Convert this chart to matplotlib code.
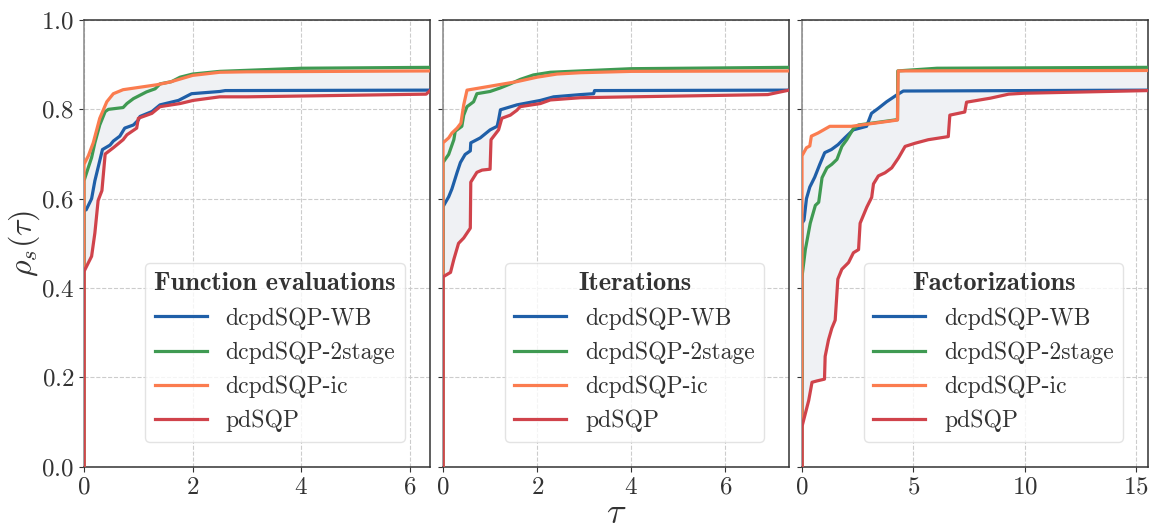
import numpy as np
import matplotlib
matplotlib.use("Agg")
import matplotlib.pyplot as plt

plt.rcParams['font.family'] = ['cmr10']
plt.rcParams['mathtext.fontset'] = 'cm'
plt.rcParams['axes.formatter.use_mathtext'] = True
plt.rcParams['axes.unicode_minus'] = False

solvers = ["dcpdSQP-WB", "dcpdSQP-2stage", "dcpdSQP-ic", "pdSQP"]
colors = ["#1f5fa8", "#3f9a52", "#fb7c4f", "#d0434b"]
titles = ["Function evaluations", "Iterations", "Factorizations"]

# performance profiles: (tau, rho) per solver
fe_tau = [
    [0, 0, 0.04, 0.14, 0.2, 0.26, 0.34, 0.48, 0.54, 0.66, 0.75, 0.91, 1.0, 1.03, 1.25, 1.40, 1.74, 1.98, 2.5, 2.6, 6.37],
    [0, 0, 0.08, 0.14, 0.2, 0.29, 0.39, 0.45, 0.72, 0.79, 0.91, 1.15, 1.31, 1.40, 1.61, 1.77, 2.0, 2.5, 4.0, 6.37],
    [0, 0, 0.08, 0.17, 0.29, 0.42, 0.54, 0.72, 1.34, 1.58, 2.0, 2.5, 3.0, 6.37],
    [0, 0, 0.14, 0.2, 0.26, 0.33, 0.39, 0.54, 0.72, 0.79, 0.97, 1.0, 1.25, 1.40, 1.77, 2.01, 2.5, 3.0, 6.3, 6.37],
]
fe_rho = [
    [0, 0.575, 0.575, 0.6, 0.64, 0.67, 0.71, 0.72, 0.729, 0.74, 0.758, 0.765, 0.776, 0.784, 0.795, 0.81, 0.82, 0.835, 0.84, 0.842, 0.843],
    [0, 0.64, 0.67, 0.692, 0.725, 0.765, 0.795, 0.80, 0.804, 0.813, 0.824, 0.839, 0.846, 0.857, 0.862, 0.872, 0.879, 0.885, 0.892, 0.894],
    [0, 0.677, 0.696, 0.725, 0.78, 0.817, 0.835, 0.844, 0.855, 0.861, 0.876, 0.883, 0.884, 0.886],
    [0, 0.437, 0.471, 0.523, 0.596, 0.618, 0.70, 0.714, 0.732, 0.743, 0.758, 0.78, 0.791, 0.806, 0.813, 0.82, 0.828, 0.828, 0.834, 0.842],
]

it_tau = [
    [0, 0, 0.12, 0.19, 0.30, 0.37, 0.47, 0.58, 0.59, 0.79, 1.0, 1.15, 1.18, 1.22, 1.57, 2.07, 2.35, 2.92, 3.2, 3.22, 7.35],
    [0, 0, 0.12, 0.23, 0.26, 0.40, 0.44, 0.51, 0.65, 0.72, 1.0, 1.22, 1.43, 1.64, 1.92, 2.28, 2.92, 4.0, 7.35],
    [0, 0, 0.12, 0.19, 0.30, 0.38, 0.44, 0.51, 1.57, 2.0, 2.42, 2.92, 4.0, 7.35],
    [0, 0, 0.16, 0.23, 0.33, 0.44, 0.58, 0.59, 0.72, 0.83, 1.0, 1.02, 1.18, 1.25, 1.43, 1.57, 1.64, 2.07, 2.28, 2.92, 4.0, 6.9, 7.35],
]
it_rho = [
    [0, 0.582, 0.604, 0.622, 0.659, 0.681, 0.699, 0.707, 0.725, 0.736, 0.754, 0.762, 0.776, 0.799, 0.81, 0.82, 0.828, 0.833, 0.835, 0.842, 0.843],
    [0, 0.681, 0.699, 0.732, 0.751, 0.762, 0.787, 0.806, 0.817, 0.835, 0.84, 0.848, 0.857, 0.867, 0.877, 0.883, 0.886, 0.891, 0.894],
    [0, 0.725, 0.736, 0.747, 0.758, 0.769, 0.81, 0.843, 0.862, 0.872, 0.879, 0.882, 0.885, 0.886],
    [0, 0.425, 0.435, 0.464, 0.50, 0.512, 0.534, 0.637, 0.659, 0.664, 0.666, 0.732, 0.754, 0.78, 0.787, 0.798, 0.806, 0.813, 0.821, 0.826, 0.828, 0.833, 0.843],
]

fa_tau = [
    [0, 0, 0.09, 0.2, 0.35, 0.57, 0.8, 1.02, 1.32, 1.62, 1.92, 2.3, 2.9, 3.12, 3.42, 3.8, 4.25, 4.55, 15.54],
    [0, 0, 0.15, 0.37, 0.6, 0.75, 0.9, 1.12, 1.34, 1.57, 1.79, 2.01, 2.31, 2.54, 4.29, 4.30, 6.06, 15.54],
    [0, 0, 0.2, 0.35, 0.42, 0.72, 1.25, 2.22, 4.29, 4.32, 15.54],
    [0, 0, 0.15, 0.3, 0.45, 0.67, 1.01, 1.04, 1.19, 1.34, 1.49, 1.61, 1.79, 2.09, 2.31, 2.54, 2.61, 2.91, 3.13, 3.21,
     3.43, 3.73, 4.03, 4.33, 4.63, 5.07, 5.67, 6.57, 6.64, 7.31, 7.39, 8.46, 9.28, 9.96, 15.54],
]
fa_rho = [
    [0, 0.545, 0.552, 0.60, 0.626, 0.648, 0.677, 0.703, 0.71, 0.721, 0.736, 0.754, 0.762, 0.791, 0.802, 0.817, 0.832, 0.841, 0.843],
    [0, 0.425, 0.486, 0.545, 0.585, 0.592, 0.647, 0.669, 0.677, 0.688, 0.717, 0.732, 0.757, 0.765, 0.777, 0.886, 0.892, 0.894],
    [0, 0.696, 0.714, 0.718, 0.74, 0.747, 0.762, 0.762, 0.776, 0.886, 0.887],
    [0, 0.09, 0.119, 0.148, 0.189, 0.192, 0.196, 0.247, 0.284, 0.31, 0.328, 0.42, 0.442, 0.457, 0.479, 0.486, 0.545,
     0.581, 0.603, 0.633, 0.651, 0.658, 0.669, 0.691, 0.717, 0.724, 0.732, 0.739, 0.787, 0.794, 0.816, 0.825, 0.834,
     0.836, 0.842],
]

panels = [(fe_tau, fe_rho), (it_tau, it_rho), (fa_tau, fa_rho)]
xticks = [[0, 2, 4, 6], [0, 2, 4, 6], [0, 5, 10, 15]]

fig = plt.figure(figsize=(11.49, 5.31), dpi=100)
lefts = [84, 443, 802]
axes = []
for i, l in enumerate(lefts):
    a = fig.add_axes([l / 1149., 1 - 466.7 / 531., 346 / 1149., 446.7 / 531.],
                     sharey=axes[0] if axes else None)
    axes.append(a)

for i, ax in enumerate(axes):
    taus, rhos = panels[i]
    # shaded band between best and worst solver
    grid = np.unique(np.concatenate([np.array(t) for t in taus]))
    vals = np.array([np.interp(grid, t, r) for t, r in zip(taus, rhos)])
    ax.fill_between(grid, vals.min(axis=0), vals.max(axis=0), color="#eff1f4", lw=0, zorder=1)
    for t, r, c, s in zip(taus, rhos, colors, solvers):
        ax.plot(t, r, color=c, lw=2.3, label=s, zorder=3)
    ax.set_xlim(0, max(max(t) for t in taus))
    ax.set_ylim(0, 1)
    ax.set_xticks(xticks[i])
    ax.set_yticks([0, 0.2, 0.4, 0.6, 0.8, 1.0])
    ax.grid(True, ls="--", color="#cccccc", lw=0.8)
    ax.set_axisbelow(True)
    for sp in ax.spines.values():
        sp.set_color("#333333")
        sp.set_linewidth(1.1)
    ax.spines['left'].set_color("#888888")
    ax.tick_params(labelsize=18, colors="#333333", labelcolor="#333333")
    if i > 0:
        ax.tick_params(labelleft=False)
    leg = ax.legend(loc="lower right", fontsize=17, title=titles[i],
                    title_fontproperties={'family': 'cmb10', 'size': 19},
                    borderaxespad=1.05, handlelength=2.2, labelspacing=0.5,
                    edgecolor="#dddddd", framealpha=0.8)
    leg.get_title().set_color("#333333")
    for txt in leg.get_texts():
        txt.set_color("#333333")

axes[0].set_ylabel(r"$\rho_s(\tau)$", fontsize=23, color="#333333")
axes[0].yaxis.set_label_coords(-0.12, 0.5)
axes[1].set_xlabel(r"$\tau$", fontsize=26, color="#333333", labelpad=0)

fig.savefig("out.png", dpi=100)
